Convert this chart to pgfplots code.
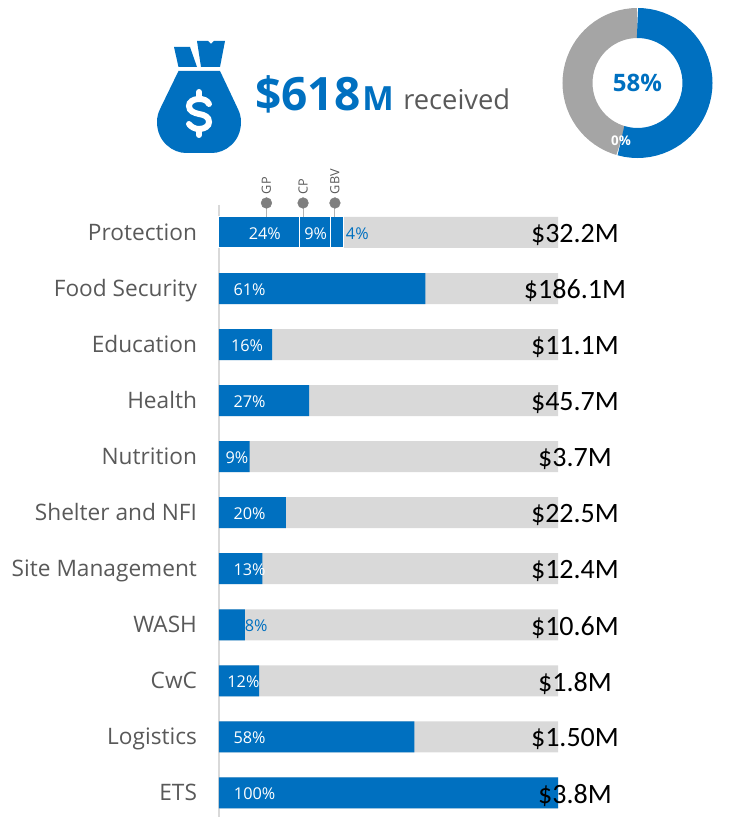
\documentclass[border=0pt]{standalone}
\usepackage{fontspec}
\setmainfont{Open Sans}
\newfontfamily\calib{Carlito}
\usepackage{pgfplots}
\usepackage{pgfplotstable}
\pgfplotsset{compat=1.18}
\usepgfplotslibrary{polar}
\definecolor{ocha}{HTML}{0070C0}
\definecolor{lightbar}{HTML}{D9D9D9}
\definecolor{donutgrey}{HTML}{A5A5A5}
\definecolor{labelgrey}{HTML}{595959}
\definecolor{pingrey}{HTML}{7F7F7F}

% sector funding, % received
\pgfplotstableread{
y v
1 60.9
2 15.7
3 26.6
4 9
5 19.7
6 12.8
7 7.6
8 11.8
9 57.6
10 100
}\received
\pgfplotstableread{
y v
0 100
1 100
2 100
3 100
4 100
5 100
6 100
7 100
8 100
9 100
10 100
}\requested
\pgfplotstableread{
x y lab
13.5 0 24
28.5 0 9
9 1 61
8.3 2 16
9 3 27
5.3 4 9
9 5 20
9 6 13
7.2 8 12
9 9 58
10.5 10 100
}\whitelabels
\pgfplotstableread{
x y lab
40.8 0 4
11 7 8
}\bluelabels
\pgfplotstableread{
x y lab
105 0 \$32.2M
105 1 \$186.1M
105 2 \$11.1M
105 3 \$45.7M
105 4 \$3.7M
105 5 \$22.5M
105 6 \$12.4M
105 7 \$10.6M
105 8 \$1.8M
105 9 \$1.50M
105 10 \$3.8M
}\totals

\begin{document}
\begin{tikzpicture}[x=0.75pt,y=0.75pt]
\path[use as bounding box] (0,0) rectangle (731,817);

% money bag
\fill[ocha] (178.5,746) -- (220,746) -- (237,710) .. controls (240,704) and (241,700) .. (241,695)
  .. controls (241,675) and (225,664) .. (212,664) -- (186,664)
  .. controls (173,664) and (157,675) .. (157,695)
  .. controls (157,700) and (158,704) .. (161,710) -- cycle;
\fill[ocha] (174,770) -- (190,770) -- (197,750) -- (178.5,750) -- cycle;
\fill[ocha] (197,776) -- (208,776) -- (211,773) -- (214,776) -- (225,776) -- (220,750) -- (201,750) -- cycle;
\draw[white,line width=4.5pt,line cap=round] (209,713) .. controls (207,717) and (203,718) .. (199,718)
  .. controls (193,718) and (189,715) .. (189,711) .. controls (189,706) and (194,704) .. (199,703)
  .. controls (205,702) and (209,700) .. (209,695) .. controls (209,691) and (205,688) .. (199,688)
  .. controls (195,688) and (191,690) .. (189,693);
\draw[white,line width=4.5pt,line cap=round] (199,718) -- (199,725);
\draw[white,line width=4.5pt,line cap=round] (199,688) -- (199,682);

% headline
\node[anchor=base west,inner sep=0pt,text=ocha,font=\fontsize{34.5pt}{34.5pt}\selectfont\bfseries] at (255,706) {\$618};
\node[anchor=base west,inner sep=0pt,text=ocha,font=\fontsize{25pt}{25pt}\selectfont\bfseries] at (362,706) {M};
\node[anchor=base west,inner sep=0pt,text=labelgrey,font=\fontsize{20.5pt}{20.5pt}\selectfont] at (403,707) {received};

% sector bars
\begin{axis}[
  at={(164.25pt,0pt)},anchor=south west,
  scale only axis,width=254.25pt,height=459pt,
  xmin=0,xmax=100,ymin=-0.49,ymax=10.43,y dir=reverse,
  axis x line=none,axis y line=left,
  axis line style={draw=lightbar,line width=1.5pt,-},
  clip=false,
  ytick={0,...,10},
  yticklabels={Protection,Food Security,Education,Health,Nutrition,Shelter and NFI,Site Management,WASH,CwC,Logistics,ETS},
  major tick length=0pt,
  yticklabel style={font=\fontsize{17pt}{17pt}\selectfont,text=labelgrey,xshift=-13pt,yshift=-1.5pt,text height=12pt,text depth=3pt},
]
\addplot[xbar,bar shift=0pt,bar width=23.25pt,fill=lightbar,draw=none] table[x=v,y=y] {\requested};
\addplot[xbar,bar shift=0pt,bar width=23.25pt,fill=ocha,draw=none] table[x=v,y=y] {\received};
% Protection breakdown
\addplot[xbar,bar shift=0pt,bar width=23.25pt,fill=ocha,draw=white,line width=0.75pt] coordinates {(36.7,0)};
\addplot[xbar,bar shift=0pt,bar width=23.25pt,fill=ocha,draw=white,line width=0.75pt] coordinates {(32.8,0)};
\addplot[xbar,bar shift=0pt,bar width=23.25pt,fill=ocha,draw=white,line width=0.75pt] coordinates {(23.7,0)};
% pins
\addplot[pingrey!60,line width=0.75pt,mark=none] coordinates {(14,-0.526)(14,-0.277)};
\addplot[pingrey!60,line width=0.75pt,mark=none] coordinates {(24.8,-0.526)(24.8,-0.277)};
\addplot[pingrey!60,line width=0.75pt,mark=none] coordinates {(34.2,-0.526)(34.2,-0.277)};
\addplot[only marks,mark=*,mark size=4pt,pingrey,mark options={draw=none,fill=pingrey},
  point meta=explicit symbolic,nodes near coords,
  nodes near coords style={rotate=90,anchor=west,inner sep=5.5pt,xshift=1pt,text=labelgrey,font=\fontsize{9.5pt}{9.5pt}\selectfont}]
  table[x=x,y=y,meta=lab] {
x y lab
14 -0.526 GP
24.8 -0.526 CP
34.2 -0.526 GBV
};
% labels
\addplot[only marks,mark=none,point meta=explicit symbolic,
  nodes near coords={\pgfplotspointmeta\%},
  nodes near coords style={anchor=center,text=white,yshift=-0.75pt,font=\fontsize{12.2pt}{12.2pt}\selectfont}]
  table[x=x,y=y,meta=lab] {\whitelabels};
\addplot[only marks,mark=none,point meta=explicit symbolic,
  nodes near coords={\pgfplotspointmeta\%},
  nodes near coords style={anchor=center,text=ocha,yshift=-0.75pt,font=\fontsize{12.2pt}{12.2pt}\selectfont}]
  table[x=x,y=y,meta=lab] {\bluelabels};
\addplot[only marks,mark=none,point meta=explicit symbolic,
  nodes near coords,
  nodes near coords style={anchor=center,text=black,yshift=-1.75pt,font=\calib\fontsize{21pt}{21pt}\selectfont}]
  table[x=x,y=y,meta=lab] {\totals};
\end{axis}

% donut
\begin{polaraxis}[
  at={(478.125pt,550.5pt)},anchor=center,
  scale only axis,width=112.5pt,height=112.5pt,
  hide axis,clip=false,
  xmin=0,xmax=360,ymin=0,ymax=75,
]
\addplot[donutgrey,line width=22.5pt,line cap=butt,mark=none,data cs=polar] coordinates {
(90,60)(95,60)(100,60)(105,60)(110,60)(115,60)(120,60)(125,60)(130,60)(135,60)(140,60)(145,60)(150,60)(155,60)(160,60)(165,60)(170,60)(175,60)(180,60)(185,60)(190,60)(195,60)(200,60)(205,60)(210,60)(215,60)(220,60)(225,60)(230,60)(235,60)(240,60)(245,60)(250,60)(254,60)};
\addplot[ocha,line width=22.5pt,line cap=butt,mark=none,data cs=polar] coordinates {
(90,60)(85,60)(80,60)(75,60)(70,60)(65,60)(60,60)(55,60)(50,60)(45,60)(40,60)(35,60)(30,60)(25,60)(20,60)(15,60)(10,60)(5,60)(0,60)(-5,60)(-10,60)(-15,60)(-20,60)(-25,60)(-30,60)(-35,60)(-40,60)(-45,60)(-50,60)(-55,60)(-60,60)(-65,60)(-70,60)(-75,60)(-80,60)(-85,60)(-90,60)(-95,60)(-100,60)(-106,60)};
\node[text=ocha,font=\fontsize{18pt}{18pt}\selectfont\bfseries] at (axis cs:0,0) {58\%};
\node[text=white,font=\fontsize{10pt}{10pt}\selectfont\bfseries] at (axis cs:254,60) {0\%};
\end{polaraxis}
\end{tikzpicture}
\end{document}
